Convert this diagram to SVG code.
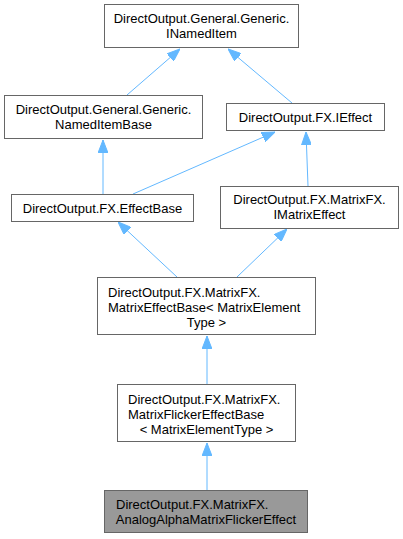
<svg xmlns="http://www.w3.org/2000/svg" width="403" height="539" viewBox="0 0 403 539">
<style>
.n rect{fill:#ffffff;stroke:#666666;stroke-width:1}
#node8 rect{fill:#999999;stroke:#666666}
text{font-family:"Liberation Sans",Arial,sans-serif;font-size:13px;fill:#000000}
.m{text-anchor:middle}
.s{text-anchor:start}
.e path{fill:none;stroke:#63b8ff;stroke-width:1;marker-end:url(#ah)}
</style>
<defs>
<marker id="ah" viewBox="0 0 13 10" refX="13" refY="5" markerWidth="13" markerHeight="10" markerUnits="userSpaceOnUse" orient="auto">
<path d="M0,0 L13,5 L0,10 z" fill="#63b8ff" stroke="#63b8ff" stroke-width="1"/>
</marker>
</defs>
<g id="connectors" class="e">
<path d="M127,95 L180,49"/>
<path d="M292,103 L228,49"/>
<path d="M103,194 L103,140"/>
<path d="M133,194 L275,132"/>
<path d="M308,186 L306,132"/>
<path d="M177,277 L118,222"/>
<path d="M237,277 L287,229"/>
<path d="M207,384 L207,336"/>
<path d="M207,490 L207,443"/>
</g>
<g id="node1" class="n">
<rect x="104.5" y="4.5" width="194" height="43"/>
<text class="m" x="201.5" y="23">DirectOutput.General.Generic.</text>
<text class="m" x="201.5" y="38">INamedItem</text>
</g>
<g id="node2" class="n">
<rect x="4.5" y="95.5" width="198" height="43"/>
<text class="m" x="103.5" y="114">DirectOutput.General.Generic.</text>
<text class="m" x="103.5" y="129">NamedItemBase</text>
</g>
<g id="node3" class="n">
<rect x="226.5" y="103.5" width="158" height="27"/>
<text class="m" x="305.5" y="121.5">DirectOutput.FX.IEffect</text>
</g>
<g id="node4" class="n">
<rect x="11.5" y="194.5" width="182" height="27"/>
<text class="m" x="102.5" y="212.5">DirectOutput.FX.EffectBase</text>
</g>
<g id="node5" class="n">
<rect x="220.5" y="186.5" width="178" height="42"/>
<text class="m" x="309.5" y="204">DirectOutput.FX.MatrixFX.</text>
<text class="m" x="309.5" y="219">IMatrixEffect</text>
</g>
<g id="node6" class="n">
<rect x="97.5" y="277.5" width="218" height="57"/>
<text class="s" x="108" y="297">DirectOutput.FX.MatrixFX.</text>
<text class="s" x="108" y="312">MatrixEffectBase&lt; MatrixElement</text>
<text class="m" x="206.5" y="327">Type &gt;</text>
</g>
<g id="node7" class="n">
<rect x="117.5" y="384.5" width="178" height="57"/>
<text class="s" x="128" y="404">DirectOutput.FX.MatrixFX.</text>
<text class="s" x="128" y="419">MatrixFlickerEffectBase</text>
<text class="m" x="206.5" y="434">&lt; MatrixElementType &gt;</text>
</g>
<g id="node8" class="n">
<rect x="104.5" y="490.5" width="203" height="42"/>
<text class="s" x="116" y="508.5">DirectOutput.FX.MatrixFX.</text>
<text class="m" x="206" y="523.5">AnalogAlphaMatrixFlickerEffect</text>
</g>
</svg>
